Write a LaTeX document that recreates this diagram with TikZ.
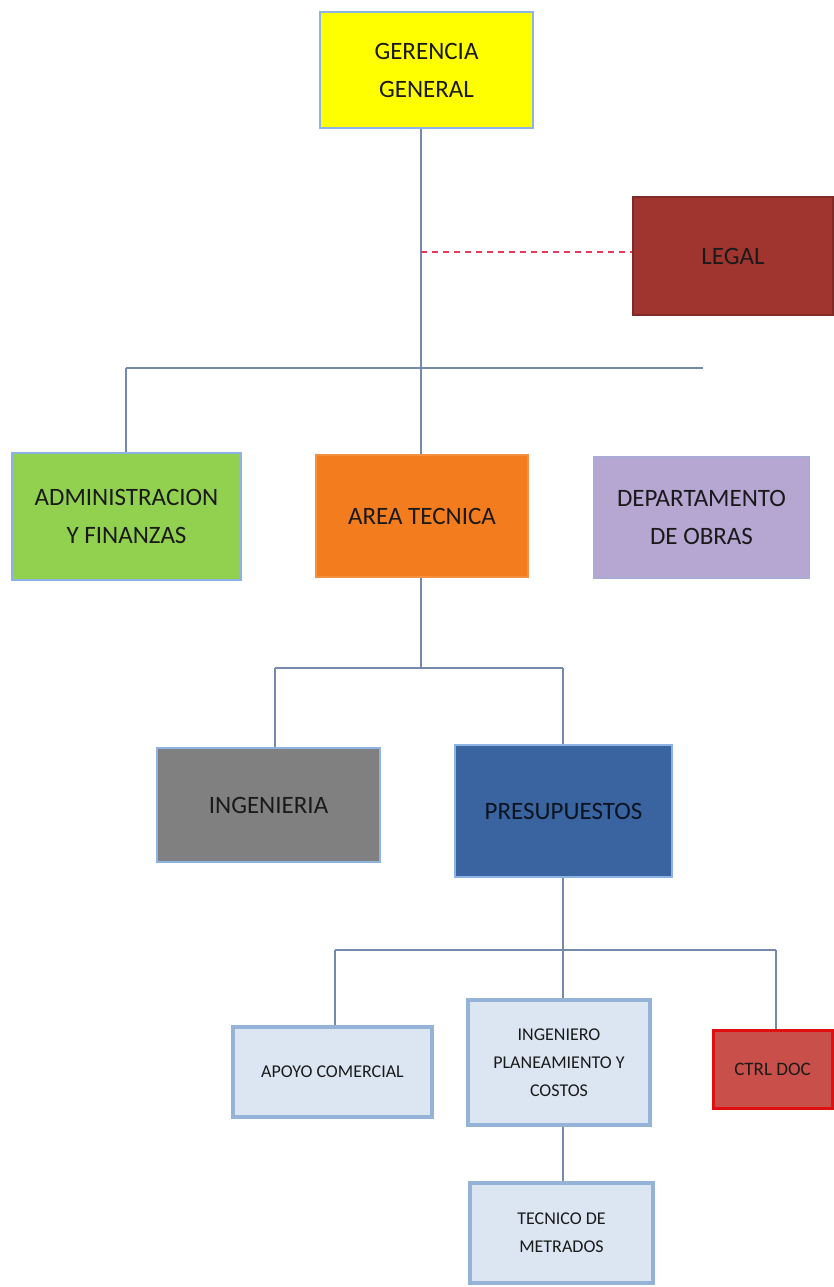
\documentclass[tikz,border=0pt]{standalone}
\usepackage{fontspec}
\setmainfont{Carlito}
\definecolor{cline}{HTML}{7589AD}
\definecolor{cborder}{HTML}{8DB3E2}
\definecolor{cyellow}{HTML}{FFFF00}
\definecolor{clegal}{HTML}{A0352F}
\definecolor{cgreen}{HTML}{92D050}
\definecolor{corange}{HTML}{F37C1E}
\definecolor{clav}{HTML}{B6A6D2}
\definecolor{cgray}{HTML}{808080}
\definecolor{cblue}{HTML}{3A64A0}
\definecolor{clight}{HTML}{DCE6F2}
\definecolor{clightb}{HTML}{95B3D7}
\definecolor{cctrl}{HTML}{C9504A}
\definecolor{cctrlb}{HTML}{E01010}
\definecolor{cdash}{HTML}{E8395A}
\definecolor{ctext}{HTML}{1A1A1A}
\begin{document}
\begin{tikzpicture}[x=1pt,y=-1pt,
  box/.style={draw=cborder, line width=2.5pt, rectangle, inner sep=0pt, align=center, text=ctext,
    font=\fontsize{25}{38}\selectfont},
  smallbox/.style={draw=clightb, line width=3.5pt, fill=clight, rectangle, inner sep=0pt, align=center, text=ctext,
    font=\fontsize{18}{28}\selectfont},
  conn/.style={draw=cline, line width=2pt}]
\useasboundingbox (0,0) rectangle (834,1287);
\fill[white] (0,0) rectangle (834,1287);

\node[box, fill=cyellow, minimum width=213pt, minimum height=116pt] (gg) at (426.5,70) {GERENCIA\\GENERAL};
\node[box, fill=clegal, draw=clegal!80!black, minimum width=200pt, minimum height=118pt] (legal) at (733,256) {LEGAL};
\node[box, fill=cgreen, minimum width=229pt, minimum height=127pt] (adm) at (126.5,516.5) {ADMINISTRACION\\Y FINANZAS};
\node[box, fill=corange, draw=corange!85!white, minimum width=212pt, minimum height=122pt] (area) at (422,516) {AREA TECNICA};
\node[box, fill=clav, draw=clav!70!cborder, minimum width=215pt, minimum height=121pt] (dept) at (701.5,517.5) {DEPARTAMENTO\\DE OBRAS};
\node[box, fill=cgray, minimum width=223pt, minimum height=114pt] (ing) at (268.5,805) {INGENIERIA};
\node[box, fill=cblue, text=black!80!cblue, minimum width=217pt, minimum height=132pt] (pres) at (563.5,811) {PRESUPUESTOS};
\node[smallbox, minimum width=199pt, minimum height=90pt] (apoyo) at (332.5,1072) {APOYO COMERCIAL};
\node[smallbox, minimum width=182pt, minimum height=125pt] (ingpl) at (559,1062.5) {INGENIERO\\PLANEAMIENTO Y\\COSTOS};
\node[smallbox, fill=cctrl, draw=cctrlb, line width=3pt, minimum width=119pt, minimum height=78pt, font=\fontsize{19}{28}\selectfont] (ctrl) at (772.5,1069) {CTRL DOC};
\node[smallbox, minimum width=183pt, minimum height=100pt] (tec) at (561.5,1233) {TECNICO DE\\METRADOS};

\coordinate (b1) at (421,368);
\coordinate (b1l) at (126,368);
\coordinate (b1r) at (703,368);
\coordinate (b2) at (421,668);
\coordinate (b2l) at (275,668);
\coordinate (b2r) at (563,668);
\coordinate (b3) at (563,950);
\coordinate (b3l) at (335,950);
\coordinate (b3r) at (776,950);

\draw[conn] (gg.south -| b1) -- (area.north -| b1);
\draw[conn] (b1l) -- (b1r);
\draw[conn] (b1l) -- (adm.north -| b1l);
\draw[cdash, line width=2pt, dash pattern=on 6pt off 5pt] (b1 |- 0,252) -- (legal.west |- 0,252);

\draw[conn] (area.south -| b2) -- (b2);
\draw[conn] (b2l) -- (b2r);
\draw[conn] (b2l) -- (ing.north -| b2l);
\draw[conn] (b2r) -- (pres.north -| b2r);

\draw[conn] (pres.south -| b3) -- (b3);
\draw[conn] (b3l) -- (b3r);
\draw[conn] (b3l) -- (apoyo.north -| b3l);
\draw[conn] (b3) -- (ingpl.north -| b3);
\draw[conn] (b3r) -- (ctrl.north -| b3r);
\draw[conn] (ingpl.south -| b3) -- (tec.north -| b3);
\end{tikzpicture}
\end{document}
